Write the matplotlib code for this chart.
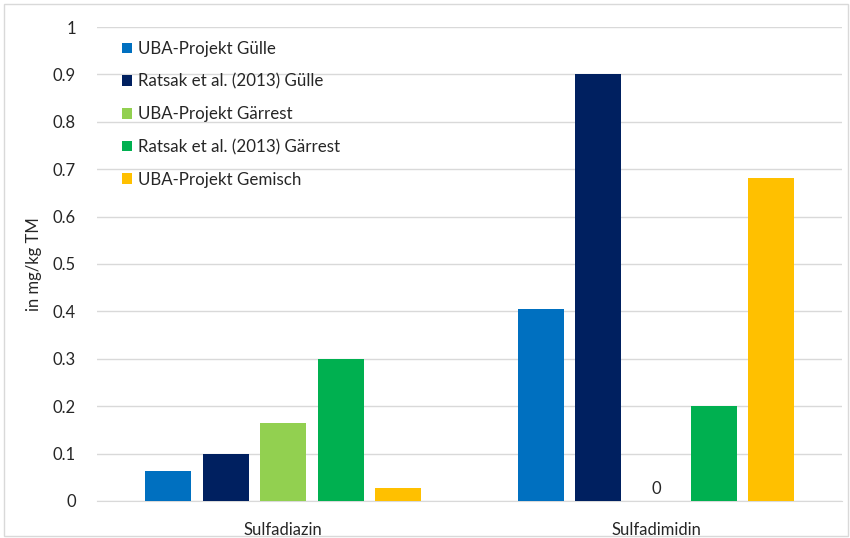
import numpy as np
import matplotlib
matplotlib.use("Agg")
import matplotlib.pyplot as plt

plt.rcParams["font.family"] = ["Lato", "DejaVu Sans"]

categories = ["Sulfadiazin", "Sulfadimidin"]
series_names = [
    "UBA-Projekt Gülle",
    "Ratsak et al. (2013) Gülle",
    "UBA-Projekt Gärrest",
    "Ratsak et al. (2013) Gärrest",
    "UBA-Projekt Gemisch",
]
uba_guelle = [0.063, 0.405]
ratsak_guelle = [0.1, 0.9]
uba_gaerrest = [0.165, 0.0]
ratsak_gaerrest = [0.3, 0.2]
uba_gemisch = [0.027, 0.681]
yticks = [0, 0.1, 0.2, 0.3, 0.4, 0.5, 0.6, 0.7, 0.8, 0.9, 1]
ytick_labels = ["0", "0.1", "0.2", "0.3", "0.4", "0.5", "0.6", "0.7", "0.8", "0.9", "1"]

series = [uba_guelle, ratsak_guelle, uba_gaerrest, ratsak_gaerrest, uba_gemisch]
colors = ["#0070C0", "#002060", "#92D050", "#00B050", "#FFC000"]

fig = plt.figure(figsize=(8.5, 5.38), dpi=100)
ax = fig.add_axes([0.114, 0.0688, 0.877, 0.881])

# outer chart frame like the Excel chart area
fig.patches.append(plt.Rectangle((0.005, 0.004), 0.993, 0.988, transform=fig.transFigure,
                                 fill=False, edgecolor="#D9D9D9", linewidth=1))

x = np.arange(len(categories))
step = 0.1544
width = 0.1235
for i, (vals, name, col) in enumerate(zip(series, series_names, colors)):
    pos = x + (i - 2) * step
    ax.bar(pos, vals, width=width, color=col, label=name, zorder=3)
    for p, v in zip(pos, vals):
        if v == 0:
            ax.annotate("0", (p, 0), xytext=(0, 3), textcoords="offset points",
                        ha="center", va="bottom", fontsize=12, color="#262626")

ax.set_xlim(-0.5, 1.5)
ax.set_ylim(0, 1)
ax.set_yticks(yticks)
ax.set_yticklabels(ytick_labels)
ax.set_xticks(x)
ax.set_xticklabels(categories)
ax.grid(axis="y", color="#D9D9D9", linewidth=1, zorder=0)
ax.tick_params(axis="both", length=0, labelsize=12, colors="#262626", pad=15)
ax.tick_params(axis="x", pad=15)
for side in ["top", "right", "left"]:
    ax.spines[side].set_visible(False)
ax.spines["bottom"].set_color("#D9D9D9")
ax.set_ylabel("in mg/kg TM", fontsize=12, color="#262626", labelpad=8)

ax.legend(loc="upper left", bbox_to_anchor=(0.025, 0.985), frameon=False,
          fontsize=12.2, handlelength=0.6, handleheight=0.6, handletextpad=0.3,
          labelspacing=0.98, borderaxespad=0, labelcolor="#262626")

fig.savefig("out.png", dpi=100)
